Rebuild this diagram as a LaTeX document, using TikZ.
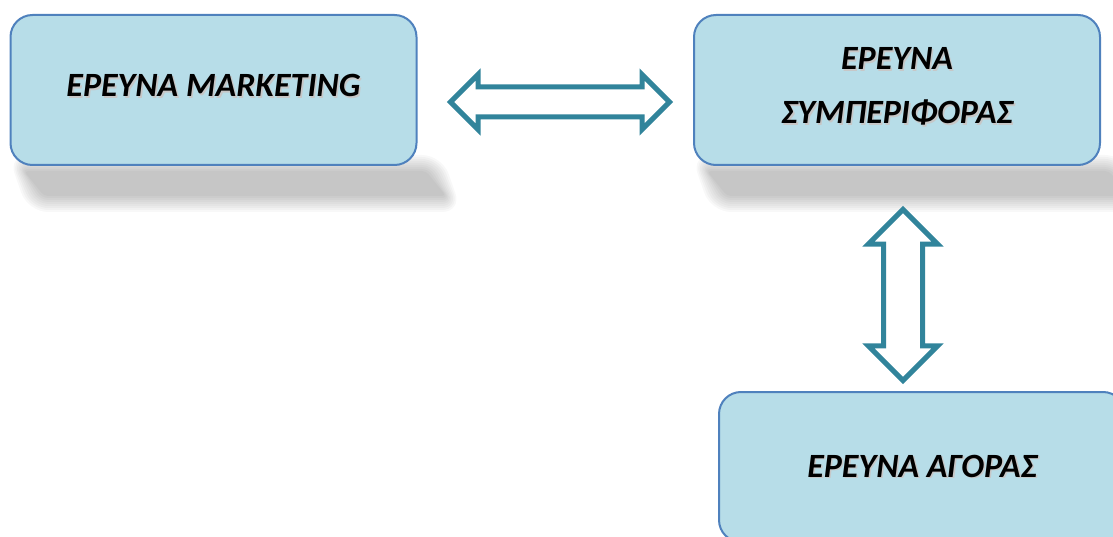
\documentclass[tikz,border=0pt]{standalone}
\usepackage{fontspec}
\setmainfont{Carlito}
\usetikzlibrary{shapes.arrows}

\definecolor{boxfill}{RGB}{183,221,232}
\definecolor{boxline}{RGB}{79,129,189}
\definecolor{arrowline}{RGB}{49,132,155}

% text with a soft drop shadow
\newcommand{\shadowtext}[1]{\leavevmode\rlap{\kern1.6pt\raisebox{-1.6pt}{\color{black!22}#1}}#1}

\tikzset{
  researchbox/.style={draw=boxline, fill=boxfill, line width=2pt,
    rounded corners=22pt, minimum width=406pt, minimum height=150pt,
    inner sep=0pt, align=center,
    font=\fontsize{34}{54}\selectfont\bfseries\itshape},
  raised text/.style={text depth=9pt},
  linkarrow/.style={double arrow, draw=arrowline, fill=white,
    line width=5pt, inner xsep=0pt, double arrow tip angle=90},
}

\begin{document}
\begin{tikzpicture}[x=1pt,y=-1pt]
  \clip (0,0) rectangle (1113,537);

  % Shadows
  \foreach \r [evaluate=\r as \rc using 4+\r] in {0,2,...,16}{
    \fill[black, opacity=0.028, rounded corners=\rc pt] ({24-\r},{171-\r}) -- ({426+\r},{171-\r}) -- ({446+\r},{196+\r}) -- ({44-\r},{196+\r}) -- cycle;
    \fill[black, opacity=0.028, rounded corners=\rc pt] ({707-\r},{171-\r}) -- ({1109+\r},{171-\r}) -- ({1129+\r},{196+\r}) -- ({727-\r},{196+\r}) -- cycle;
  }

  % Boxes
  \node[researchbox, raised text] (marketing) at (213.5,90) {\shadowtext{ΕΡΕΥΝΑ MARKETING}};
  \node[researchbox, raised text] (behaviour) at (897,90) {\shadowtext{ΕΡΕΥΝΑ}\\\shadowtext{ΣΥΜΠΕΡΙΦΟΡΑΣ}};
  \node[researchbox] (market) at (922,467) {\shadowtext{ΕΡΕΥΝΑ ΑΓΟΡΑΣ}};

  % Arrows
  \node[linkarrow, inner ysep=12.5pt, double arrow head extend=12.5pt, minimum height=219pt] (mb) at (560,102) {};
  \node[linkarrow, inner ysep=17pt, double arrow head extend=15pt, minimum height=171pt, rotate=90] (bm) at (903,295) {};
\end{tikzpicture}
\end{document}
